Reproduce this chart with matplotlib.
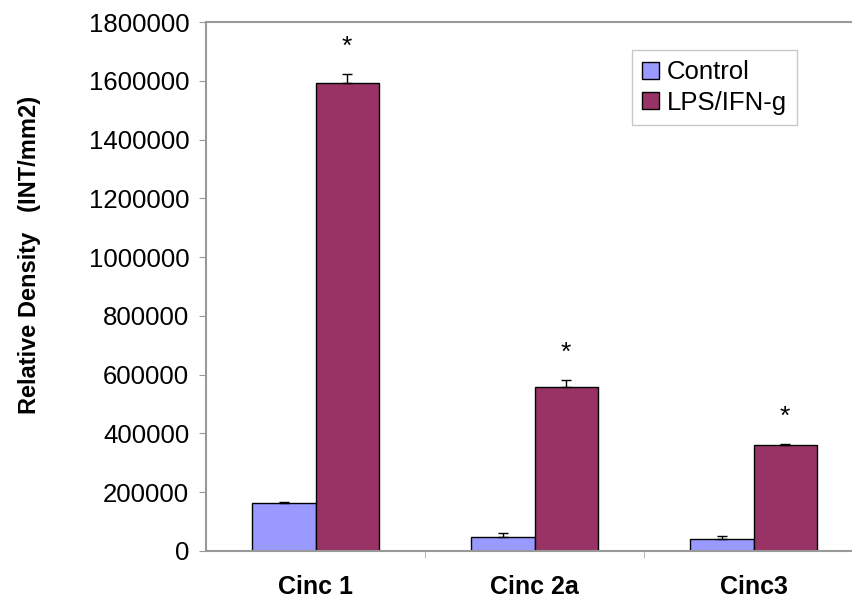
import numpy as np
import matplotlib as mpl
import matplotlib.pyplot as plt

mpl.rcParams['font.family'] = ['Liberation Sans', 'DejaVu Sans']

# data
categories = ['Cinc 1', 'Cinc 2a', 'Cinc3']
control = [163000, 47600, 40800]
control_err = [2500, 13000, 10500]
lps = [1592000, 558000, 361000]
lps_err = [31000, 24000, 4000]
series_names = ['Control', 'LPS/IFN-g']
yticks = np.arange(0, 1800001, 200000)

fig = plt.figure(figsize=(8.52, 6.03), dpi=100)
ax = fig.add_axes([206 / 852, 1 - 551 / 603, 657 / 852, 529 / 603])

x = np.arange(len(categories))
w = 0.2877

ax.bar(x - w / 2, control, w, color='#9999FF', edgecolor='black', lw=1.0,
       label=series_names[0], zorder=2)
ax.bar(x + w / 2, lps, w, color='#993366', edgecolor='black', lw=1.0,
       label=series_names[1], zorder=2)
ax.errorbar(x - w / 2, control, yerr=[np.zeros(3), control_err], fmt='none',
            ecolor='black', elinewidth=1, capsize=3.5, capthick=1, zorder=3)
ax.errorbar(x + w / 2, lps, yerr=[np.zeros(3), lps_err], fmt='none',
            ecolor='black', elinewidth=1, capsize=3.5, capthick=1, zorder=3)

# significance stars above the LPS bars
for i in range(len(categories)):
    ax.annotate('*', (x[i] + w / 2, lps[i] + lps_err[i]), xytext=(0, 11),
                textcoords='offset points', ha='center', va='bottom',
                fontsize=19)

ax.set_xlim(-0.5, len(categories) - 0.5)
ax.set_ylim(0, 1800000)
ax.set_yticks(yticks)
ax.set_yticklabels([str(v) for v in yticks], fontsize=18.5)
ax.set_xticks(x)
ax.set_xticklabels(categories, fontsize=18, fontweight='bold')
ax.tick_params(axis='x', length=0, pad=17)
ax.set_xticks(np.arange(0.5, len(categories) - 0.5, 1), minor=True)
ax.tick_params(axis='x', which='minor', length=5, color='#aaaaaa', direction='out')
ax.tick_params(axis='y', length=5, color='#999999', direction='out', pad=7)

for s in ['left', 'bottom', 'top', 'right']:
    ax.spines[s].set_color('#999999')
    ax.spines[s].set_linewidth(1.5)

fig.text(30 / 852, 1 - 255 / 603, 'Relative Density   (INT/mm2)', rotation=90,
         ha='center', va='center', fontsize=17, fontweight='bold')

leg = ax.legend(loc='upper left', bbox_to_anchor=(632 / 852, 1 - 50 / 603),
                bbox_transform=fig.transFigure, fontsize=18.5, frameon=True,
                fancybox=False, edgecolor='#bbbbbb', handlelength=0.65,
                handleheight=0.65, handletextpad=0.3, borderpad=0.4,
                labelspacing=0.25, borderaxespad=0)
leg.get_frame().set_linewidth(1)

fig.savefig('out.png', dpi=100)
